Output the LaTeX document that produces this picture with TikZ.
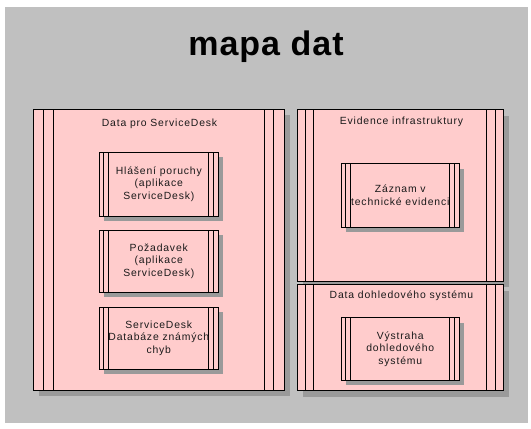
\documentclass[tikz,border=0pt]{standalone}
\usepackage{fontspec}
\setmainfont{Liberation Sans}
\newfontfamily\lblfont[LetterSpace=8]{Liberation Sans}
\newfontfamily\ttlfont[LetterSpace=3]{Liberation Sans}
\usetikzlibrary{shadows}
\definecolor{bggray}{HTML}{C0C0C0}
\definecolor{pinkfill}{HTML}{FFCCCC}
\definecolor{shadowgray}{HTML}{9A9A9A}
\definecolor{txt}{HTML}{1A1A1A}
\tikzset{
  lanes/.style 2 args={path picture={
    \draw[line width=0.9pt] ([xshift=#1]path picture bounding box.north west) -- ([xshift=#1]path picture bounding box.south west);
    \draw[line width=0.9pt] ([xshift=#2]path picture bounding box.north west) -- ([xshift=#2]path picture bounding box.south west);
    \draw[line width=0.9pt] ([xshift=-#1]path picture bounding box.north east) -- ([xshift=-#1]path picture bounding box.south east);
    \draw[line width=0.9pt] ([xshift=-#2]path picture bounding box.north east) -- ([xshift=-#2]path picture bounding box.south east);
  }},
  pbox/.style={rectangle, draw=black, line width=0.9pt, fill=pinkfill, inner sep=0pt,
    drop shadow={shadow xshift=#1, shadow yshift=-#1, fill=shadowgray, opacity=1}},
  bigbox/.style={pbox=6pt},
  smallbox/.style={pbox=5pt, lanes={4.5pt}{9.5pt}, text=txt, align=center,
    font=\lblfont\fontsize{10.4}{12.6}\selectfont, minimum width=119pt},
  lbl/.style={text=txt, font=\lblfont\fontsize{10.4}{12}\selectfont, inner sep=0pt}
}
\begin{document}
\begin{tikzpicture}[x=1pt,y=-1pt]
\useasboundingbox (0,0) rectangle (531,429);
\fill[bggray] (5,7) rectangle (528,423);
\node[font=\ttlfont\bfseries\fontsize{34}{40}\selectfont, text=black, inner sep=0pt] (title) at (266,47) {mapa dat};

% containers
\node[bigbox, lanes={10.5pt}{20pt}, minimum width=250.7pt, minimum height=280.7pt] (sd) at (158.65,249.65) {};
\node[bigbox, lanes={8pt}{16.5pt}, minimum width=206pt, minimum height=171.3pt] (ev) at (400.3,195.35) {};
\node[bigbox, lanes={8pt}{16.5pt}, minimum width=206pt, minimum height=106pt] (dd) at (400.3,337.7) {};

\node[lbl] (sdl) at (159.5,124) {Data pro ServiceDesk};
\node[lbl] (evl) at (401.5,121.7) {Evidence infrastruktury};
\node[lbl] (ddl) at (401.5,296) {Data dohledového systému};

% inner boxes
\node[smallbox, minimum height=63.7pt] (hp) at (158.8,184.15) {Hlášení poruchy\\(aplikace\\ServiceDesk)};
\node[smallbox, minimum height=62.3pt] (pz) at (158.8,261.15) {Požadavek\\(aplikace\\ServiceDesk)};
\node[smallbox, minimum height=61.7pt] (db) at (158.8,338.15) {ServiceDesk\\Databáze známých\\chyb};
\node[smallbox, minimum width=118pt, minimum height=63.3pt] (zz) at (400.3,195.35) {Záznam v\\technické evidenci};
\node[smallbox, minimum width=118pt, minimum height=62.3pt] (vy) at (400.3,348.85) {Výstraha\\dohledového\\systému};
\end{tikzpicture}
\end{document}
